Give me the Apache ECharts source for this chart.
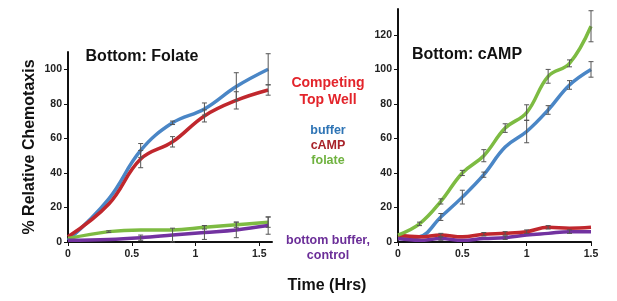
<!DOCTYPE html>
<html>
<head>
<meta charset="utf-8">
<script src="https://cdn.jsdelivr.net/npm/echarts@6/dist/echarts.min.js"></script>
<style>
  html, body { margin: 0; padding: 0; background: #fff; }
  #echart { width: 617px; height: 301px; }
</style>
</head>
<body>
<div id="echart"></div>
<script>
// left panel: bottom well = folate
const leftX = [0, 0.32, 0.57, 0.82, 1.07, 1.32, 1.57];
const leftBuffer = [1, 25, 53, 69, 77, 90, 100];
const leftCamp = [3, 22, 48, 58, 73, 82, 88];
const leftFolate = [2, 6, 7, 7, 8.5, 10, 11.5];
const leftControl = [1, 1.5, 2.5, 4, 5.5, 7, 9.5];
const leftBufferErr = [0, 0, 4, 1, 3.5, 8, 9];
const leftCampErr = [0, 0, 5, 3, 3.5, 5, 3];
const leftFolateErr = [0, 0.5, 0, 0, 1, 1.5, 3];
const leftControlErr = [0, 0, 1.5, 4, 4, 4.5, 5];

// right panel: bottom well = cAMP
const rightX = [0, 0.167, 0.333, 0.5, 0.667, 0.833, 1, 1.167, 1.333, 1.5];
const rightBuffer = [2, 3, 14.5, 26, 39, 55, 64, 76.5, 91, 100];
const rightCamp = [4, 3, 4, 3, 4.5, 5, 6, 8.5, 8, 8.5];
const rightFolate = [4, 10.5, 23.5, 40, 50, 66, 75, 96, 103.5, 125];
const rightControl = [2, 1, 2, 1, 2, 2.5, 4, 5, 6, 6];
const rightBufferErr = [0, 0, 2, 4, 1.5, 0, 6.5, 2.5, 2.5, 4.5];
const rightCampErr = [0, 0, 1, 0, 1, 1, 1, 1, 0, 0];
const rightFolateErr = [0, 1, 1.5, 1.5, 3.5, 2.5, 4.5, 4, 2, 9];
const rightControlErr = [0, 0, 1, 0, 0, 1, 0, 0, 1, 0];

const xTicks = [0, 0.5, 1, 1.5];
const leftYTicks = [0, 20, 40, 60, 80, 100];
const rightYTicks = [0, 20, 40, 60, 80, 100, 120];

const colors = {
  buffer: "#4a86c6",
  camp: "#c0272d",
  folate: "#7dbb42",
  control: "#7232a0"
};

const font = "Liberation Sans";

const axisLabel = {
  color: "#222",
  fontFamily: font,
  fontWeight: "bold",
  fontSize: 10.5
};

function xAxis(gridIndex, max) {
  return {
    type: "value",
    gridIndex,
    min: 0,
    max,
    splitLine: { show: false },
    axisLine: { lineStyle: { color: "#111", width: 2 } },
    axisTick: { customValues: xTicks, length: 4, lineStyle: { color: "#111" } },
    axisLabel: {
      ...axisLabel,
      margin: 7,
      customValues: xTicks,
      formatter: v => String(v)
    }
  };
}

function yAxis(gridIndex, max, ticks) {
  return {
    type: "value",
    gridIndex,
    min: 0,
    max,
    splitLine: { show: false },
    axisLine: { show: true, lineStyle: { color: "#111", width: 2 } },
    axisTick: { show: true, customValues: ticks, length: 4, lineStyle: { color: "#111" } },
    axisLabel: { ...axisLabel, margin: 6, customValues: ticks }
  };
}

function line(name, xs, ys, color, axisIndex) {
  return {
    name,
    type: "line",
    xAxisIndex: axisIndex,
    yAxisIndex: axisIndex,
    data: xs.map((x, i) => [x, ys[i]]),
    smooth: 0.4,
    symbol: "none",
    lineStyle: { color, width: 3.5 },
    z: 2
  };
}

function errorBars(xs, ys, errs, axisIndex) {
  return {
    type: "custom",
    xAxisIndex: axisIndex,
    yAxisIndex: axisIndex,
    data: xs.map((x, i) => [x, ys[i], errs[i]]).filter(d => d[2] > 0),
    z: 3,
    renderItem(params, api) {
      const x = api.value(0);
      const y = api.value(1);
      const e = api.value(2);
      const hi = api.coord([x, y + e]);
      const lo = api.coord([x, y - e]);
      const cap = 2.5;
      const style = { stroke: "#555", lineWidth: 1 };
      return {
        type: "group",
        children: [
          { type: "line", shape: { x1: hi[0], y1: hi[1], x2: lo[0], y2: lo[1] }, style },
          { type: "line", shape: { x1: hi[0] - cap, y1: hi[1], x2: hi[0] + cap, y2: hi[1] }, style },
          { type: "line", shape: { x1: lo[0] - cap, y1: lo[1], x2: lo[0] + cap, y2: lo[1] }, style }
        ]
      };
    }
  };
}

function text(str, x, y, size, color, align) {
  return {
    type: "text",
    left: x,
    top: y,
    style: {
      text: str,
      fill: color,
      font: "bold " + size + "px '" + font + "'",
      textAlign: align || "center",
      lineHeight: size * 1.2
    }
  };
}

const chart = echarts.init(document.getElementById("echart"));
chart.setOption({
  animation: false,
  grid: [
    { left: 68, top: 52, width: 204, height: 190 },
    { left: 398, top: 9, width: 193, height: 233 }
  ],
  xAxis: [xAxis(0, 1.6), xAxis(1, 1.5)],
  yAxis: [
    {
      ...yAxis(0, 110, leftYTicks),
      name: "% Relative Chemotaxis",
      nameLocation: "middle",
      nameGap: 30,
      nameTextStyle: { color: "#111", fontFamily: font, fontWeight: "bold", fontSize: 16 }
    },
    yAxis(1, 135, rightYTicks)
  ],
  graphic: [
    { type: "text", x: 142, y: 49, style: { text: "Bottom: Folate", fill: "#111", font: "bold 16px '" + font + "'", textAlign: "center" } },
    { type: "text", x: 467, y: 47, style: { text: "Bottom: cAMP", fill: "#111", font: "bold 16px '" + font + "'", textAlign: "center" } },
    { type: "text", x: 328, y: 75, style: { text: "Competing\nTop Well", fill: "#e3242b", font: "bold 14px '" + font + "'", textAlign: "center", lineHeight: 17 } },
    { type: "text", x: 328, y: 124, style: { text: "buffer", fill: "#2e74b5", font: "bold 12.5px '" + font + "'", textAlign: "center" } },
    { type: "text", x: 328, y: 139, style: { text: "cAMP", fill: "#a8232a", font: "bold 12.5px '" + font + "'", textAlign: "center" } },
    { type: "text", x: 328, y: 154, style: { text: "folate", fill: "#6fb23f", font: "bold 12.5px '" + font + "'", textAlign: "center" } },
    { type: "text", x: 328, y: 233, style: { text: "bottom buffer,\ncontrol", fill: "#6b2e98", font: "bold 12.5px '" + font + "'", textAlign: "center", lineHeight: 15 } },
    { type: "text", x: 327, y: 278, style: { text: "Time (Hrs)", fill: "#111", font: "bold 16px '" + font + "'", textAlign: "center" } }
  ],
  series: [
    line("buffer", leftX, leftBuffer, colors.buffer, 0),
    line("cAMP", leftX, leftCamp, colors.camp, 0),
    line("folate", leftX, leftFolate, colors.folate, 0),
    line("control", leftX, leftControl, colors.control, 0),
    errorBars(leftX, leftBuffer, leftBufferErr, 0),
    errorBars(leftX, leftCamp, leftCampErr, 0),
    errorBars(leftX, leftFolate, leftFolateErr, 0),
    errorBars(leftX, leftControl, leftControlErr, 0),

    line("buffer", rightX, rightBuffer, colors.buffer, 1),
    line("control", rightX, rightControl, colors.control, 1),
    line("cAMP", rightX, rightCamp, colors.camp, 1),
    line("folate", rightX, rightFolate, colors.folate, 1),
    errorBars(rightX, rightBuffer, rightBufferErr, 1),
    errorBars(rightX, rightCamp, rightCampErr, 1),
    errorBars(rightX, rightFolate, rightFolateErr, 1),
    errorBars(rightX, rightControl, rightControlErr, 1)
  ]
});
</script>
</body>
</html>
